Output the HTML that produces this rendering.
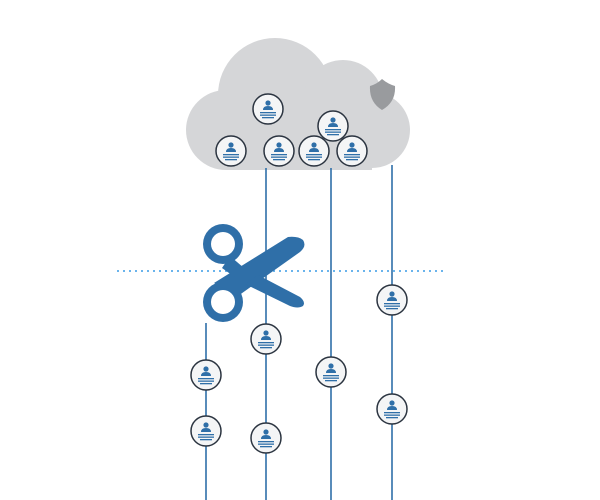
<!DOCTYPE html>
<html><head><style>body{margin:0;background:#fff}svg{display:block}</style></head><body>
<svg width="600" height="500" viewBox="0 0 600 500" xmlns="http://www.w3.org/2000/svg">
<defs>
<g id="n">
<circle r="15" fill="#f4f5f6" stroke="#2b3440" stroke-width="1.5"/>
<circle cx="0" cy="-6" r="2.6" fill="#2f6fa8"/>
<path d="M-5,1 Q-5,-3 0,-3 Q5,-3 5,1 Z" fill="#2f6fa8"/>
<rect x="-8" y="3" width="16" height="1.3" fill="#2f6fa8"/>
<rect x="-8" y="5.5" width="16" height="1.3" fill="#2f6fa8"/>
<rect x="-6" y="8" width="12" height="1.3" fill="#2f6fa8"/>
</g>
</defs>
<g fill="#d5d6d8">
<circle cx="275" cy="95" r="57"/>
<circle cx="343" cy="100" r="40"/>
<circle cx="226" cy="130" r="40"/>
<circle cx="372" cy="130" r="38"/>
<rect x="226" y="100" width="146" height="70"/>
</g>
<path d="M370,86 Q377,84 382,79 Q388,84 395,86 Q396,102 382,110 Q369,102 370,86Z" fill="#999b9e"/>
<g stroke="#2f6fa8" stroke-width="1.6">
<line x1="266" y1="168" x2="266" y2="500"/>
<line x1="331" y1="168" x2="331" y2="500"/>
<line x1="392" y1="165" x2="392" y2="500"/>
<line x1="206" y1="323" x2="206" y2="500"/>
</g>
<line x1="117" y1="271" x2="444" y2="271" stroke="#6ab4ec" stroke-width="2" stroke-dasharray="2,4"/>
<g fill="#2f6fa8">
<circle cx="223" cy="244" r="20"/>
<circle cx="223" cy="302" r="20"/>
<path d="M214,283 L238,296 L300,252 Q307,246 303,240 Q298,236 288,237 Z"/>
<polygon points="230,256 244,268 236,278 222,268"/>
<path d="M245,284 L258,275 L300,297 Q306,302 303,306 Q298,309 290,306 Z"/>
</g>
<g fill="#fff"><circle cx="223" cy="244" r="12"/><circle cx="223" cy="302" r="12"/></g>
<g>
<use href="#n" x="268" y="109"/><use href="#n" x="231" y="151"/><use href="#n" x="279" y="151"/>
<use href="#n" x="314" y="151"/><use href="#n" x="333" y="126"/><use href="#n" x="352" y="151"/>
<use href="#n" x="392" y="300"/><use href="#n" x="266" y="339"/><use href="#n" x="206" y="375"/>
<use href="#n" x="331" y="372"/><use href="#n" x="392" y="409"/><use href="#n" x="206" y="431"/>
<use href="#n" x="266" y="438"/>
</g>
</svg>
</body></html>
